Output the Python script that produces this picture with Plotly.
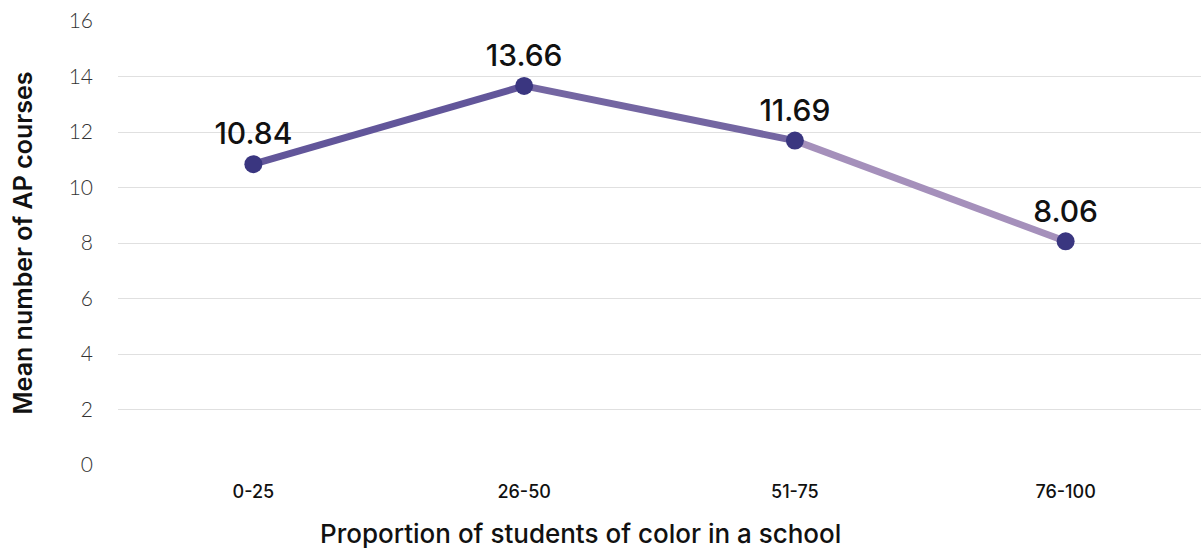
import plotly.graph_objects as go

# Mean number of AP courses by share of students of color
categories = ["0-25", "26-50", "51-75", "76-100"]
mean_ap = [10.84, 13.66, 11.69, 8.06]
y_ticks = [0, 2, 4, 6, 8, 10, 12, 14, 16]

# line colour fades from deep to pale purple across the segments
segment_colors = ["#62569a", "#7466a2", "#a590bb"]
marker_color = "#3a3680"

label_font = "Inter, Noto Sans, sans-serif"

fig = go.Figure()

for i, col in enumerate(segment_colors):
    fig.add_trace(go.Scatter(
        x=categories[i:i + 2], y=mean_ap[i:i + 2],
        mode="lines",
        line=dict(color=col, width=7),
        hoverinfo="skip", showlegend=False,
    ))

fig.add_trace(go.Scatter(
    x=categories, y=mean_ap,
    mode="markers+text",
    marker=dict(color=marker_color, size=18),
    text=[f"{v:.2f}" for v in mean_ap],
    textposition="top center",
    textfont=dict(family=label_font, size=30, color="#111111", weight=500),
    showlegend=False,
))

# x-axis title sits a little left of the plot-area centre
fig.add_annotation(
    text="Proportion of students of color in a school",
    xref="paper", yref="paper", x=0.4266, y=0, yshift=-68,
    xanchor="center", yanchor="middle", showarrow=False,
    font=dict(family=label_font, size=26, color="#111111", weight=500),
)

fig.update_layout(
    width=1201, height=548,
    margin=dict(l=118, r=0, t=21, b=83),
    paper_bgcolor="white", plot_bgcolor="white",
    xaxis=dict(
        type="category",
        categoryorder="array", categoryarray=categories,
        range=[-0.5, 3.5],
        showgrid=False, zeroline=False, showline=False,
        ticks="", ticklabelstandoff=14,
        tickfont=dict(family=label_font, size=18, color="#111111", weight=500),
    ),
    yaxis=dict(
        range=[0, 16],
        tickvals=y_ticks,
        showgrid=True, gridcolor="#e0e0e0", gridwidth=1,
        zeroline=False, showline=False,
        ticks="", ticklabelstandoff=24,
        tickfont=dict(family="Lato, Inter, sans-serif", size=21, color="#333333", weight=300),
        title=dict(text="Mean number of AP courses",
                   font=dict(family=label_font, size=25, color="#111111", weight=600),
                   standoff=28),
    ),
)

fig.write_html("out.html")
